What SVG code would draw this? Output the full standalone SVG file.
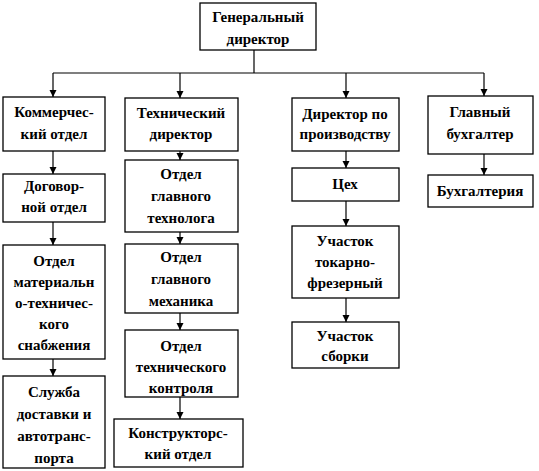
<svg xmlns="http://www.w3.org/2000/svg" width="539" height="471" viewBox="0 0 539 471">
<defs>
<marker id="arr" markerUnits="userSpaceOnUse" markerWidth="8" markerHeight="8" refX="7" refY="3.5" orient="auto">
<path d="M0,0 L7,3.5 L0,7 z" fill="#000"/>
</marker>
</defs>
<rect width="539" height="471" fill="#fff"/>
<g id="connectors" stroke="#000" stroke-width="1.2" fill="none">
<line x1="254" y1="50" x2="254" y2="73"/>
<line x1="53" y1="73" x2="484" y2="73"/>
<g marker-end="url(#arr)">
<line x1="53" y1="73" x2="53" y2="97"/>
<line x1="180" y1="73" x2="180" y2="98"/>
<line x1="346" y1="73" x2="346" y2="98"/>
<line x1="484" y1="73" x2="484" y2="96"/>
<line x1="53" y1="151" x2="53" y2="174"/>
<line x1="53" y1="222" x2="53" y2="245"/>
<line x1="53" y1="359" x2="53" y2="376"/>
<line x1="180" y1="151" x2="180" y2="160"/>
<line x1="180" y1="232" x2="180" y2="244"/>
<line x1="180" y1="313" x2="180" y2="330"/>
<line x1="180" y1="397" x2="180" y2="419"/>
<line x1="346" y1="151" x2="346" y2="168"/>
<line x1="346" y1="201" x2="346" y2="226"/>
<line x1="346" y1="298" x2="346" y2="322"/>
<line x1="484" y1="154" x2="484" y2="175"/>
</g>
</g>
<g id="gen">
<rect x="200" y="3" width="116" height="47" fill="#fff" stroke="#000" stroke-width="1.3"/>
<text x="258" y="22" font-family="Liberation Serif" font-weight="bold" font-size="15" text-anchor="middle">Генеральный</text>
<text x="258" y="44" font-family="Liberation Serif" font-weight="bold" font-size="15" text-anchor="middle">директор</text>
</g>
<g id="kom">
<rect x="3" y="97" width="102" height="54" fill="#fff" stroke="#000" stroke-width="1.3"/>
<text x="54" y="117" font-family="Liberation Serif" font-weight="bold" font-size="15" text-anchor="middle">Коммерчес-</text>
<text x="54" y="139" font-family="Liberation Serif" font-weight="bold" font-size="15" text-anchor="middle">кий отдел</text>
</g>
<g id="dog">
<rect x="3" y="174" width="102" height="48" fill="#fff" stroke="#000" stroke-width="1.3"/>
<text x="54" y="191" font-family="Liberation Serif" font-weight="bold" font-size="15" text-anchor="middle">Договор-</text>
<text x="54" y="212" font-family="Liberation Serif" font-weight="bold" font-size="15" text-anchor="middle">ной отдел</text>
</g>
<g id="mts">
<rect x="3" y="245" width="102" height="114" fill="#fff" stroke="#000" stroke-width="1.3"/>
<text x="54" y="266" font-family="Liberation Serif" font-weight="bold" font-size="15" text-anchor="middle">Отдел</text>
<text x="54" y="287" font-family="Liberation Serif" font-weight="bold" font-size="15" text-anchor="middle">материальн</text>
<text x="54" y="308" font-family="Liberation Serif" font-weight="bold" font-size="15" text-anchor="middle">о-техничес-</text>
<text x="54" y="329" font-family="Liberation Serif" font-weight="bold" font-size="15" text-anchor="middle">кого</text>
<text x="54" y="350" font-family="Liberation Serif" font-weight="bold" font-size="15" text-anchor="middle">снабжения</text>
</g>
<g id="sluzh">
<rect x="3" y="376" width="102" height="92" fill="#fff" stroke="#000" stroke-width="1.3"/>
<text x="54" y="397" font-family="Liberation Serif" font-weight="bold" font-size="15" text-anchor="middle">Служба</text>
<text x="54" y="419" font-family="Liberation Serif" font-weight="bold" font-size="15" text-anchor="middle">доставки и</text>
<text x="54" y="441" font-family="Liberation Serif" font-weight="bold" font-size="15" text-anchor="middle">автотранс-</text>
<text x="54" y="463" font-family="Liberation Serif" font-weight="bold" font-size="15" text-anchor="middle">порта</text>
</g>
<g id="techdir">
<rect x="125" y="98" width="113" height="53" fill="#fff" stroke="#000" stroke-width="1.3"/>
<text x="181" y="118" font-family="Liberation Serif" font-weight="bold" font-size="15" text-anchor="middle">Технический</text>
<text x="181" y="139" font-family="Liberation Serif" font-weight="bold" font-size="15" text-anchor="middle">директор</text>
</g>
<g id="tekhnolog">
<rect x="125" y="160" width="113" height="72" fill="#fff" stroke="#000" stroke-width="1.3"/>
<text x="181" y="179" font-family="Liberation Serif" font-weight="bold" font-size="15" text-anchor="middle">Отдел</text>
<text x="181" y="201" font-family="Liberation Serif" font-weight="bold" font-size="15" text-anchor="middle">главного</text>
<text x="181" y="223" font-family="Liberation Serif" font-weight="bold" font-size="15" text-anchor="middle">технолога</text>
</g>
<g id="mekhanik">
<rect x="125" y="244" width="113" height="69" fill="#fff" stroke="#000" stroke-width="1.3"/>
<text x="181" y="262" font-family="Liberation Serif" font-weight="bold" font-size="15" text-anchor="middle">Отдел</text>
<text x="181" y="284" font-family="Liberation Serif" font-weight="bold" font-size="15" text-anchor="middle">главного</text>
<text x="181" y="306" font-family="Liberation Serif" font-weight="bold" font-size="15" text-anchor="middle">механика</text>
</g>
<g id="kontrol">
<rect x="125" y="330" width="113" height="67" fill="#fff" stroke="#000" stroke-width="1.3"/>
<text x="181" y="351" font-family="Liberation Serif" font-weight="bold" font-size="15" text-anchor="middle">Отдел</text>
<text x="181" y="372" font-family="Liberation Serif" font-weight="bold" font-size="15" text-anchor="middle">технического</text>
<text x="181" y="393" font-family="Liberation Serif" font-weight="bold" font-size="15" text-anchor="middle">контроля</text>
</g>
<g id="konstr">
<rect x="114" y="419" width="129" height="48" fill="#fff" stroke="#000" stroke-width="1.3"/>
<text x="178" y="438" font-family="Liberation Serif" font-weight="bold" font-size="15" text-anchor="middle">Конструкторс-</text>
<text x="178" y="459" font-family="Liberation Serif" font-weight="bold" font-size="15" text-anchor="middle">кий отдел</text>
</g>
<g id="proddir">
<rect x="292" y="98" width="107" height="53" fill="#fff" stroke="#000" stroke-width="1.3"/>
<text x="345" y="119" font-family="Liberation Serif" font-weight="bold" font-size="15" text-anchor="middle">Директор по</text>
<text x="345" y="139" font-family="Liberation Serif" font-weight="bold" font-size="15" text-anchor="middle">производству</text>
</g>
<g id="tsekh">
<rect x="292" y="168" width="107" height="33" fill="#fff" stroke="#000" stroke-width="1.3"/>
<text x="345" y="189" font-family="Liberation Serif" font-weight="bold" font-size="15" text-anchor="middle">Цех</text>
</g>
<g id="tokar">
<rect x="292" y="226" width="107" height="72" fill="#fff" stroke="#000" stroke-width="1.3"/>
<text x="345" y="246" font-family="Liberation Serif" font-weight="bold" font-size="15" text-anchor="middle">Участок</text>
<text x="345" y="267" font-family="Liberation Serif" font-weight="bold" font-size="15" text-anchor="middle">токарно-</text>
<text x="345" y="288" font-family="Liberation Serif" font-weight="bold" font-size="15" text-anchor="middle">фрезерный</text>
</g>
<g id="sborka">
<rect x="292" y="322" width="107" height="46" fill="#fff" stroke="#000" stroke-width="1.3"/>
<text x="345" y="341" font-family="Liberation Serif" font-weight="bold" font-size="15" text-anchor="middle">Участок</text>
<text x="345" y="361" font-family="Liberation Serif" font-weight="bold" font-size="15" text-anchor="middle">сборки</text>
</g>
<g id="glbukh">
<rect x="428" y="96" width="105" height="58" fill="#fff" stroke="#000" stroke-width="1.3"/>
<text x="480" y="117" font-family="Liberation Serif" font-weight="bold" font-size="15" text-anchor="middle">Главный</text>
<text x="480" y="139" font-family="Liberation Serif" font-weight="bold" font-size="15" text-anchor="middle">бухгалтер</text>
</g>
<g id="bukh">
<rect x="428" y="175" width="105" height="32" fill="#fff" stroke="#000" stroke-width="1.3"/>
<text x="480" y="196" font-family="Liberation Serif" font-weight="bold" font-size="15" text-anchor="middle">Бухгалтерия</text>
</g>
</svg>
